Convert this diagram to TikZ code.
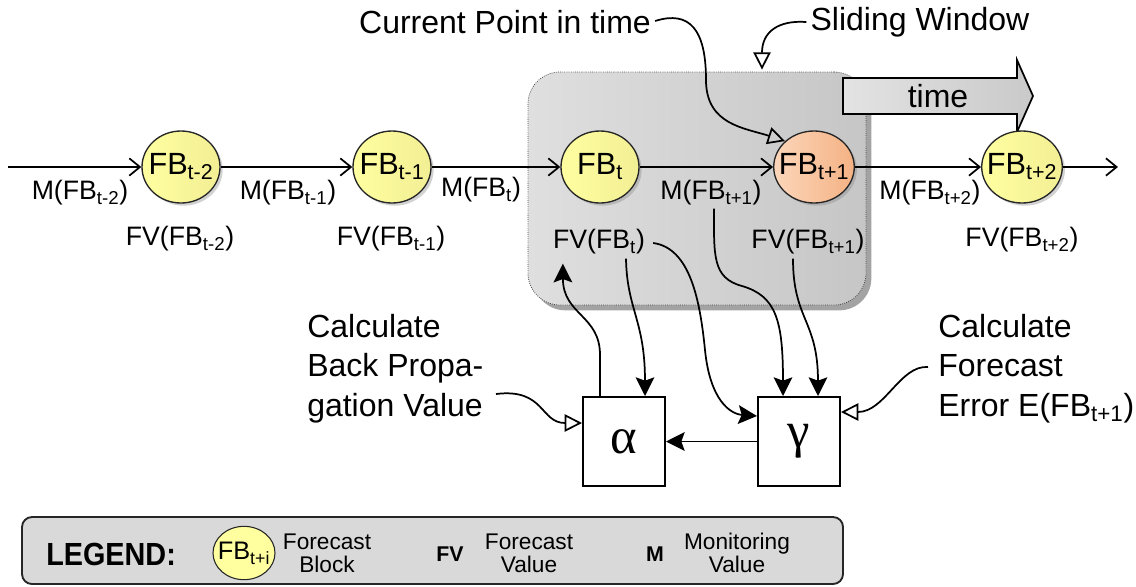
\documentclass[tikz,border=0pt]{standalone}
\usepackage{fontspec}
\setmainfont{Liberation Sans}
\newfontfamily\greekserif{Liberation Serif}
\newfontfamily\narrowsans{Liberation Sans}[FakeStretch=0.9]
\usetikzlibrary{arrows.meta,shapes.geometric,shadows,calc}

\definecolor{fbyellow}{HTML}{FFFFA0}
\definecolor{fbyellowdark}{HTML}{F2EE94}
\definecolor{fborange}{HTML}{FCD6BA}
\definecolor{fborangedark}{HTML}{F4B284}
\definecolor{winlight}{HTML}{DFDFDF}
\definecolor{windark}{HTML}{C6C6C6}
\definecolor{legendgray}{HTML}{D9D9D9}

\tikzset{
  mainfont/.style={font=\fontsize{24}{29.5}\selectfont},
  lblfont/.style={font=\fontsize{20}{22}\selectfont},
  fbnode/.style={ellipse, draw=black!85, line width=1pt, inner sep=-5pt,
    minimum width=58.5pt, minimum height=54pt,
    left color=fbyellow, right color=fbyellowdark,
    drop shadow={shadow xshift=2pt, shadow yshift=-2pt, opacity=0.35},
    font=\fontsize{23}{23}\selectfont},
  fbnow/.style={fbnode, left color=fborange, right color=fborangedark},
  lbl/.style={lblfont, inner sep=0pt},
  opbox/.style={draw, line width=1.5pt, fill=white, minimum width=61.5pt,
    minimum height=66.75pt, inner sep=0pt,
    font=\greekserif\fontsize{38}{38}\selectfont},
  flow/.style={line width=1.3pt, -{Straight Barb[length=8pt,width=13pt,line width=1.3pt]}},
  feed/.style={line width=1.3pt, -{Stealth[length=14pt,width=14pt,inset=2.5pt]}},
  hint/.style={line width=1.3pt, -{Triangle[open,length=13pt,width=13pt,line width=1.3pt]}},
  note/.style={mainfont, inner sep=0pt, align=left},
  legtxt/.style={font=\fontsize{17}{17.5}\selectfont, align=center, inner sep=0pt},
  legkey/.style={font=\bfseries\fontsize{16}{16}\selectfont, inner sep=0pt}
}

\begin{document}
\begin{tikzpicture}[x=0.75pt, y=-0.75pt]
\useasboundingbox (0,0) rectangle (1136,586);
\fill[white] (0,0) rectangle (1136,586);

% sliding window
\node[draw=gray!55!black, densely dotted, line width=0.6pt, rounded corners=24pt,
  left color=winlight, right color=windark,
  minimum width=253.5pt, minimum height=174.75pt, inner sep=0pt,
  drop shadow={shadow xshift=4pt, shadow yshift=-4pt, opacity=0.55, fill=gray!70!black}]
  (win) at (697,188.5) {};

% time arrow
\draw[line width=1.3pt, left color=gray!22, right color=gray!42]
  (843,78) -- (1017,78) -- (1017,60) -- (1033,96) -- (1017,132) -- (1017,114) -- (843,114) -- cycle;
\node[mainfont, inner sep=0pt] (timelbl) at (938,96) {time};

% forecast blocks
\coordinate (linestart) at (8,167);
\coordinate (lineend) at (1118,167);
\node[fbnode] (c1) at (181,167) {FB\textsubscript{t-2}};
\node[fbnode] (c2) at (392,167) {FB\textsubscript{t-1}};
\node[fbnode] (c3) at (600,167) {FB\textsubscript{t}};
\node[fbnow]  (c4) at (814,167) {FB\textsubscript{t+1}};
\node[fbnode] (c5) at (1022,167) {FB\textsubscript{t+2}};

\draw[flow] (linestart) -- (c1);
\draw[flow] (c1) -- (c2);
\draw[flow] (c2) -- (c3);
\draw[flow] (c3) -- (c4);
\draw[flow] (c4) -- (c5);
\draw[flow] (c5) -- (lineend);

% monitoring values
\node[lbl] (m1) at (80,193) {M(FB\textsubscript{t-2})};
\node[lbl] (m2) at (288,193) {M(FB\textsubscript{t-1})};
\node[lbl] (m3) at (481,190) {M(FB\textsubscript{t})};
\node[lbl] (m4) at (711,193) {M(FB\textsubscript{t+1})};
\node[lbl] (m5) at (930,193) {M(FB\textsubscript{t+2})};

% forecast values
\node[lbl] (f1) at (180,239) {FV(FB\textsubscript{t-2})};
\node[lbl] (f2) at (391,239) {FV(FB\textsubscript{t-1})};
\node[lbl] (f3) at (599,242) {FV(FB\textsubscript{t})};
\node[lbl] (f4) at (808,242) {FV(FB\textsubscript{t+1})};
\node[lbl] (f5) at (1022,240) {FV(FB\textsubscript{t+2})};

% operators
\node[opbox] (alpha) at (624,441.5) {α};
\node[opbox] (gamma) at (799,441.5) {γ};

% annotations
\node[mainfont, inner sep=0pt] (cur) at (505,22) {Current Point in time};
\node[mainfont, inner sep=0pt] (slide) at (920,22) {Sliding Window};
\node[note, anchor=north west] (bp) at (307,314) {Calculate\\Back Propa-\\gation Value};
\node[note, anchor=north west] (fe) at (938,314) {Calculate\\Forecast\\Error E(FB\textsubscript{t+1})};
\coordinate (bpstart) at (496,394);
\coordinate (festart) at (928,367);

% annotation pointers
\draw[hint] ($(cur.east)+(4,-1)$) .. controls (690,10) and (706,30) .. (706,80)
  .. controls (706,125) and (745,128) .. (c4.north west);
\draw[hint] ($(slide.west)+(-4,0)$) .. controls (778,20) and (762,32) .. ($(win.north)+(65,-2)$);
\draw[hint] (bpstart) .. controls (545,388) and (540,423) .. ($(alpha.west)+(0,-18.5)$);
\draw[hint] (festart) .. controls (900,365) and (885,412) .. ($(gamma.east)+(0,-29.5)$);

% value flows between window and operators
\draw[feed] ($(alpha.north)+(-24,0)$) -- (600,355)
  .. controls (600,315) and (563,315) .. ($(f3.south west)+(10,9)$);
\draw[feed] ($(f3.south)+(27,4)$) .. controls (627,310) and (645,320) .. ($(alpha.north)+(21,0)$);
\draw[feed] ($(f3.east)+(8,1)$) .. controls (690,248) and (700,300) .. (705,350)
  .. controls (710,400) and (730,414) .. ($(gamma.west)+(0,-25.5)$);
\draw[feed] ($(m4.south)+(3,3)$) .. controls (714,255) and (712,278) .. (742,286)
  .. controls (776,296) and (783,320) .. ($(gamma.north)+(-16,0)$);
\draw[feed] ($(f4.south)+(-15,4)$) .. controls (793,320) and (818,320) .. ($(gamma.north)+(19,0)$);
\draw[feed] (gamma.west) -- (alpha.east);

% legend
\node[draw=gray!30!black, line width=1.4pt, fill=legendgray, rounded corners=7.5pt,
  minimum width=615.75pt, minimum height=50.25pt, inner sep=0pt] (legend) at (432.5,550.5) {};
\node[anchor=west, inner sep=0pt, font=\narrowsans\bfseries\fontsize{24}{24}\selectfont] (legtitle) at (46,554) {LEGEND:};
\node[ellipse, draw=black!85, line width=0.8pt, fill=fbyellow, minimum width=46.5pt,
  minimum height=40pt, inner sep=0pt] (lfb) at (244,553) {};
\node[inner sep=0pt, font=\fontsize{19}{19}\selectfont] (lfbtxt) at (244,553) {FB\textsubscript{t+i}};
\node[legtxt] (lfbdesc) at (327,553) {Forecast\\Block};
\node[legkey] (lfv) at (450,554) {FV};
\node[legtxt] (lfvdesc) at (529,553) {Forecast\\Value};
\node[legkey] (lm) at (655,554) {M};
\node[legtxt] (lmdesc) at (737,553) {Monitoring\\Value};
\end{tikzpicture}
\end{document}
